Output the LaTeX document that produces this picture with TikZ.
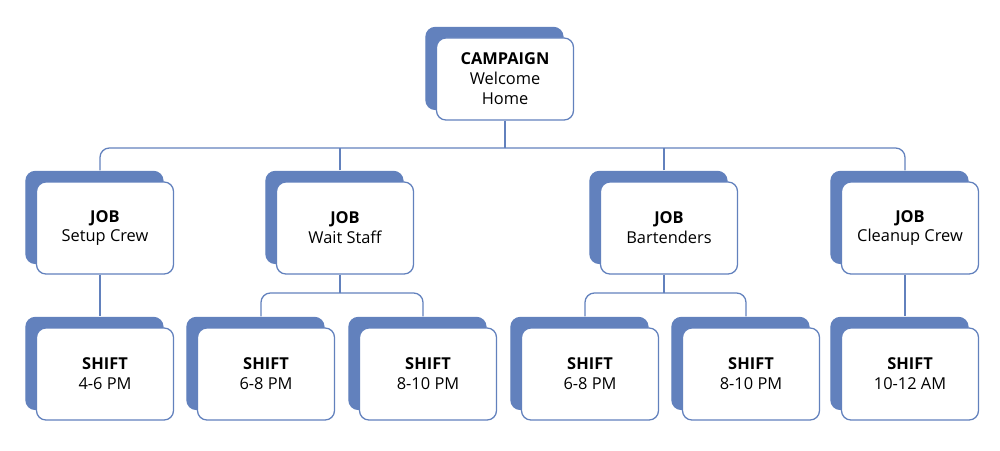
\documentclass[tikz,border=0pt]{standalone}
\usepackage{fontspec}
\setmainfont{Open Sans}
\usetikzlibrary{shadows,positioning}
\definecolor{cardblue}{RGB}{98,129,189}

\begin{document}
\begin{tikzpicture}[x=0.03cm,y=-0.03cm,
    box/.style = {draw=cardblue, line width=1.1pt, rounded corners=8pt, fill=white,
        minimum width=137*0.03cm, minimum height=92*0.03cm, align=center,
        font=\fontsize{14}{17}\selectfont,
        copy shadow={shadow xshift=-9pt, shadow yshift=9pt, fill=cardblue, draw=cardblue}},
    link/.style = {draw=cardblue, line width=1.1pt, rounded corners=8pt}]
        \useasboundingbox (0,0) rectangle (1000,451);
        \node[box, minimum height=82*0.03cm] (camp) at (505,79) {\textbf{CAMPAIGN}\\Welcome\\Home};
        \node[box] (setup)   at (105,228) {\textbf{JOB}\\Setup Crew};
        \node[box] (wait)    at (345,228) {\textbf{JOB}\\Wait Staff};
        \node[box] (bar)     at (669,228) {\textbf{JOB}\\Bartenders};
        \node[box] (cleanup) at (910,228) {\textbf{JOB}\\Cleanup Crew};
        \node[box] (s1) at (105,374) {\textbf{SHIFT}\\4-6 PM};
        \node[box] (s2) at (266,374) {\textbf{SHIFT}\\6-8 PM};
        \node[box] (s3) at (428,374) {\textbf{SHIFT}\\8-10 PM};
        \node[box] (s4) at (590,374) {\textbf{SHIFT}\\6-8 PM};
        \node[box] (s5) at (751,374) {\textbf{SHIFT}\\8-10 PM};
        \node[box] (s6) at (910,374) {\textbf{SHIFT}\\10-12 AM};

        \coordinate (bus) at (505,148);
        \coordinate (waitbus) at (340,293);
        \coordinate (barbus) at (664,293);

        \draw[link] (camp.south) -- (bus);
        \draw[link] ([shift={(-5,-11)}]setup.north) |- (bus);
        \draw[link] ([shift={(-5,-11)}]cleanup.north) |- (bus);
        \draw[link] ([shift={(-5,-11)}]wait.north) -- ([shift={(-5,0)}]wait.north |- bus);
        \draw[link] ([shift={(-5,-11)}]bar.north) -- ([shift={(-5,0)}]bar.north |- bus);

        \draw[link] ([xshift=-5*0.03cm]setup.south) -- ([shift={(-5,-11)}]s1.north);
        \draw[link] ([xshift=-5*0.03cm]cleanup.south) -- ([shift={(-5,-11)}]s6.north);
        \draw[link] ([xshift=-5*0.03cm]wait.south) -- (waitbus);
        \draw[link] ([shift={(-5,-11)}]s2.north) |- (waitbus);
        \draw[link] ([shift={(-5,-11)}]s3.north) |- (waitbus);
        \draw[link] ([xshift=-5*0.03cm]bar.south) -- (barbus);
        \draw[link] ([shift={(-5,-11)}]s4.north) |- (barbus);
        \draw[link] ([shift={(-5,-11)}]s5.north) |- (barbus);
    \end{tikzpicture}
\end{document}
